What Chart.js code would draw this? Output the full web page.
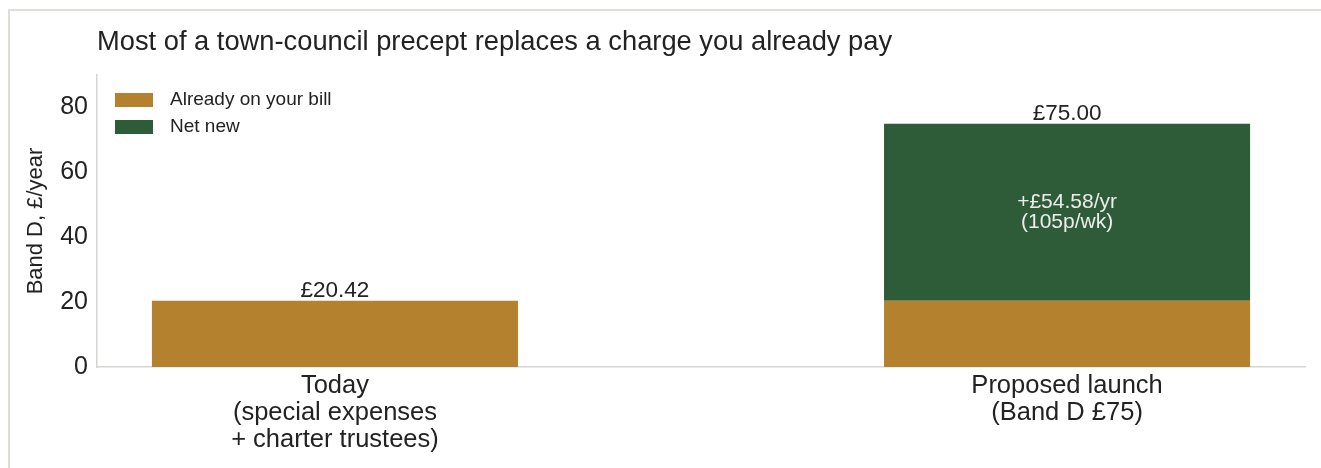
<!DOCTYPE html>
<html>
<head>
<meta charset="utf-8">
<script src="https://cdn.jsdelivr.net/npm/chart.js@4.4.1/dist/chart.umd.min.js"></script>
<style>
  html, body { margin: 0; padding: 0; background: #fff; }
  body { width: 1321px; height: 468px; overflow: hidden; position: relative; }
  .frame { position: absolute; left: 8px; top: 9px; width: 1330px; height: 480px;
           border-left: 2px solid #deded9; border-top: 2px solid #deded9; }
  #wrap { position: absolute; left: 0; top: 0; width: 1321px; height: 468px; }
</style>
</head>
<body>
<div class="frame"></div>
<div id="wrap"><canvas id="precept"></canvas></div>
<script>
const categories = [
  ["Today", "(special expenses", "+ charter trustees)"],
  ["Proposed launch", "(Band D £75)"]
];
const alreadyOnBill = [20.42, 20.42];
const netNew = [0, 54.58];
const yTicks = [0, 20, 40, 60, 80];

const FONT = '"Liberation Sans", Arial, Helvetica, sans-serif';
const INK = '#222';
const GOLD = '#b4822e';
const GREEN = '#2e5c39';
const AXIS = '#d6d6d1';

const chartTitle = 'Most of a town-council precept replaces a charge you already pay';

const toPoints = arr => arr.map((v, i) => ({ x: i, y: v }));
const money = v => '£' + v.toFixed(2);

// title, in-plot legend and value labels
const extras = {
  id: 'extras',
  afterDraw(chart) {
    const { ctx, chartArea } = chart;
    ctx.save();

    ctx.fillStyle = INK;
    ctx.font = '27.3px ' + FONT;
    ctx.textAlign = 'left';
    ctx.textBaseline = 'alphabetic';
    ctx.fillText(chartTitle, chartArea.left, 50);

    // legend
    chart.data.datasets.forEach((ds, i) => {
      const y = chartArea.top + 18 + i * 27;
      ctx.fillStyle = ds.backgroundColor;
      ctx.fillRect(chartArea.left + 18, y, 38, 14);
      ctx.fillStyle = INK;
      ctx.font = '19px ' + FONT;
      ctx.textBaseline = 'middle';
      ctx.fillText(ds.label, chartArea.left + 73, y + 7);
    });

    // totals above each stack
    const yScale = chart.scales.y;
    const xScale = chart.scales.x;
    ctx.textAlign = 'center';
    categories.forEach((c, i) => {
      const total = alreadyOnBill[i] + netNew[i];
      const x = xScale.getPixelForValue(i);
      ctx.fillStyle = INK;
      ctx.font = '22.5px ' + FONT;
      ctx.textBaseline = 'alphabetic';
      ctx.fillText(money(total), x, yScale.getPixelForValue(total) - 4);

      if (netNew[i] > 0) {
        const mid = yScale.getPixelForValue(alreadyOnBill[i] + netNew[i] / 2);
        const weekly = Math.round(netNew[i] / 52 * 100);
        ctx.fillStyle = '#ececec';
        ctx.font = '21px ' + FONT;
        ctx.textBaseline = 'middle';
        ctx.fillText('+' + money(netNew[i]) + '/yr', x, mid - 10);
        ctx.fillText('(' + weekly + 'p/wk)', x, mid + 10);
      }
    });
    ctx.restore();
  }
};

new Chart(document.getElementById('precept'), {
  type: 'bar',
  data: {
    datasets: [
      { label: 'Already on your bill', data: toPoints(alreadyOnBill), backgroundColor: GOLD },
      { label: 'Net new', data: toPoints(netNew), backgroundColor: GREEN }
    ]
  },
  options: {
    responsive: true,
    maintainAspectRatio: false,
    animation: false,
    categoryPercentage: 1,
    barPercentage: 0.5,
    layout: { padding: { top: 75, right: 16, bottom: 0, left: 20 } },
    plugins: {
      legend: { display: false },
      tooltip: { enabled: false }
    },
    scales: {
      x: {
        type: 'linear',
        offset: false,
        stacked: true,
        min: -0.325,
        max: 1.325,
        afterBuildTicks: s => { s.ticks = categories.map((c, i) => ({ value: i })); },
        afterFit: s => { s.height = 101; },
        grid: { display: false, drawTicks: false, offset: false },
        border: { display: true, color: AXIS, width: 1.5 },
        ticks: {
          maxRotation: 0,
          autoSkip: false,
          padding: 6,
          color: INK,
          font: { family: FONT, size: 25.5, lineHeight: 1.05 },
          callback: v => categories[v]
        }
      },
      y: {
        stacked: true,
        min: 0,
        max: 90,
        afterBuildTicks: s => { s.ticks = yTicks.map(v => ({ value: v })); },
        afterFit: s => { s.width = 77; },
        grid: { display: false, drawTicks: false },
        border: { display: true, color: AXIS, width: 1.5 },
        title: {
          display: true,
          text: 'Band D, £/year',
          color: INK,
          font: { family: FONT, size: 22 },
          padding: { top: 3, bottom: 0 }
        },
        ticks: {
          padding: 9,
          color: INK,
          font: { family: FONT, size: 25 }
        }
      }
    }
  },
  plugins: [extras]
});
</script>
</body>
</html>
